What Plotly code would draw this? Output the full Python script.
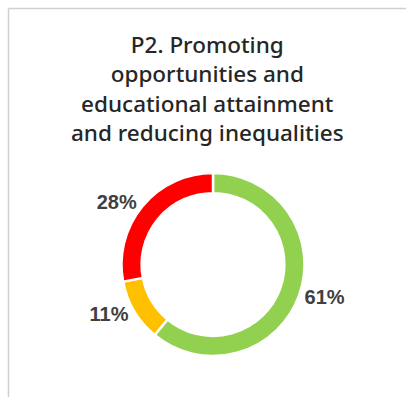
import plotly.graph_objects as go

# Share of indicators by status for priority P2
labels = ["On track", "Some progress", "Off track"]
values = [61, 11, 28]
colors = ["#92D050", "#FFC000", "#FF0000"]
title_text = "P2. Promoting<br>opportunities and<br>educational attainment<br>and reducing inequalities"

W, H = 406, 397

fig = go.Figure(
    go.Pie(
        labels=labels,
        values=values,
        hole=0.78,
        sort=False,
        direction="clockwise",
        rotation=0,
        marker=dict(colors=colors, line=dict(color="white", width=2.5)),
        texttemplate="<b>%{value}%</b>",
        textposition="outside",
        outsidetextfont=dict(family="Liberation Sans, Arial", size=20, color="#404040"),
        hoverinfo="label+percent",
        showlegend=False,
        domain=dict(x=[(213 - 91.5) / W, (213 + 91.5) / W],
                    y=[1 - 356 / H, 1 - 173 / H]),
    )
)

fig.add_annotation(
    text=title_text,
    x=207 / W, y=1 - 27 / H, xref="paper", yref="paper",
    xanchor="center", yanchor="top", showarrow=False,
    font=dict(family="Noto Sans", size=22.5, color="#262626", weight=500),
)

# Card border on the top and left edges
fig.add_shape(type="line", xref="paper", yref="paper",
              x0=8.5 / W, x1=1, y0=1 - 8.5 / H, y1=1 - 8.5 / H,
              line=dict(color="#D0D0D0", width=1.5))
fig.add_shape(type="line", xref="paper", yref="paper",
              x0=8.5 / W, x1=8.5 / W, y0=0, y1=1 - 8.5 / H,
              line=dict(color="#D0D0D0", width=1.5))

fig.update_layout(
    width=W, height=H,
    margin=dict(l=0, r=0, t=0, b=0),
    paper_bgcolor="white",
    plot_bgcolor="white",
)

fig.write_html("out.html")
